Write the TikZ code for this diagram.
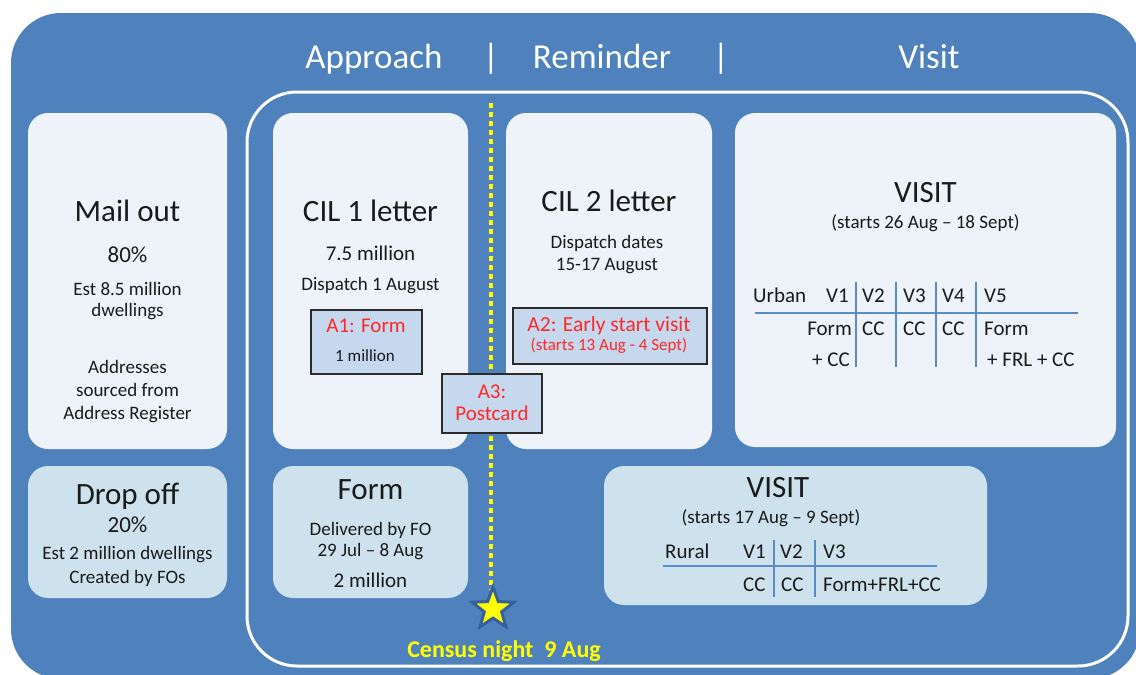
\documentclass[tikz,border=0pt]{standalone}
\usepackage{fontspec}
\setmainfont{Carlito}
\usetikzlibrary{shapes.geometric}
\definecolor{bgblue}{HTML}{4F81BD}
\definecolor{boxlight}{HTML}{EEF3FA}
\definecolor{boxblue}{HTML}{CEE2EE}
\definecolor{afill}{HTML}{C5D8EE}
\definecolor{aborder}{HTML}{2B2B2B}
\definecolor{ared}{HTML}{FF2828}
\definecolor{rulecol}{HTML}{5B8BC7}
\definecolor{starblue}{HTML}{36609A}
\definecolor{txtdark}{HTML}{1A1A1A}
\definecolor{census}{HTML}{FFFF00}
\newcommand{\fz}[1]{\fontsize{#1}{#1}\selectfont}
\begin{document}
\begin{tikzpicture}[x=1pt,y=-1pt,
  box/.style={inner sep=0pt, outer sep=0pt, anchor=north west, rounded corners=20pt},
  lightbox/.style={box, fill=boxlight},
  bluebox/.style={box, fill=boxblue},
  abox/.style={inner sep=0pt, outer sep=0pt, anchor=north west, draw=aborder, line width=1.3pt, fill=afill},
  t/.style={inner sep=0pt, anchor=base, text=txtdark},
  tw/.style={t, anchor=base west},
  te/.style={t, anchor=base east},
  hd/.style={inner sep=0pt, anchor=base, text=white, font=\fz{35}},
  redtxt/.style={inner sep=0pt, anchor=base, text=ared},
  tablerule/.style={draw=rulecol, line width=1.5pt},
  big/.style={font=\fz{31}},
  mid/.style={font=\fz{23}},
  small/.style={font=\fz{19}},
  tab/.style={font=\fz{21}},
]
\useasboundingbox (0,0) rectangle (1136,675);
% background
\node[box, fill=bgblue, rounded corners=50pt, minimum width=1129pt, minimum height=666pt] (bg) at (11,13) {};
% header
\node[hd] (happ) at (374,68) {Approach};
\node[hd] (hsep1) at (491,68) {|};
\node[hd] (hrem) at (602,68) {Reminder};
\node[hd] (hsep2) at (721,68) {|};
\node[hd] (hvis) at (929,68) {Visit};
% white frame
\node[box, draw=white, line width=3pt, rounded corners=50pt, minimum width=881pt, minimum height=574pt] (frame) at (247,92) {};
% boxes
\node[lightbox, minimum width=199pt, minimum height=336pt] (mail) at (28,113) {};
\node[bluebox, minimum width=199pt, minimum height=132pt] (drop) at (28,466) {};
\node[lightbox, minimum width=195pt, minimum height=336pt] (cil1) at (273,113) {};
\node[lightbox, minimum width=206pt, minimum height=336pt] (cil2) at (506,113) {};
\node[lightbox, minimum width=381pt, minimum height=334pt] (urban) at (735,113) {};
\node[bluebox, minimum width=195pt, minimum height=132pt] (form) at (273,466) {};
\node[bluebox, minimum width=383pt, minimum height=139pt] (rural) at (604,466) {};
% mail out texts
\node[t, big] (mt1) at (127.5,221) {Mail out};
\node[t, mid] (mt2) at (127.5,262) {80\%};
\node[t, small] (mt3) at (127.5,295) {Est 8.5 million};
\node[t, small] (mt4) at (127.5,316) {dwellings};
\node[t, small] (mt5) at (127.5,373) {Addresses};
\node[t, small] (mt6) at (127.5,396) {sourced from};
\node[t, small] (mt7) at (127.5,419) {Address Register};
% drop off texts
\node[t, big] (dt1) at (127.5,504) {Drop off};
\node[t, mid] (dt2) at (127.5,532) {20\%};
\node[t, small] (dt3) at (127.5,559) {Est 2 million dwellings};
\node[t, small] (dt4) at (127.5,583) {Created by FOs};
% CIL 1
\node[t, big] (c1t1) at (370.5,221) {CIL 1 letter};
\node[t, font=\fz{21}] (c1t2) at (370.5,260) {7.5 million};
\node[t, small] (c1t3) at (370.5,290) {Dispatch 1 August};
% CIL 2
\node[t, big] (c2t1) at (609,211) {CIL 2 letter};
\node[t, small] (c2t2) at (607,248) {Dispatch dates};
\node[t, small] (c2t3) at (607,270) {15-17 August};
% urban visit
\node[t, big] (ut1) at (925.5,202) {VISIT};
\node[t, small] (ut2) at (925.5,228) {(starts 26 Aug -- 18 Sept)};
\draw[tablerule] (755,313) coordinate (uh1) -- (1078,313) coordinate (uh2);
\foreach \x [count=\i] in {856,896,936,976}{
  \draw[tablerule] (\x,282) coordinate (uvt\i) -- (\x,367) coordinate (uvb\i);
}
\node[tw, tab] (uu) at (753,302) {Urban};
\node[tw, tab] (uv1) at (826,302) {V1};
\node[tw, tab] (uv2) at (862,302) {V2};
\node[tw, tab] (uv3) at (903,302) {V3};
\node[tw, tab] (uv4) at (942,302) {V4};
\node[tw, tab] (uv5) at (984,302) {V5};
\node[te, tab] (ur1) at (852,335) {Form};
\node[tw, tab] (ur2) at (862,335) {CC};
\node[tw, tab] (ur3) at (903,335) {CC};
\node[tw, tab] (ur4) at (942,335) {CC};
\node[tw, tab] (ur5) at (984,335) {Form};
\node[te, tab] (ur6) at (850,366) {+ CC};
\node[tw, tab] (ur7) at (987,366) {+ FRL + CC};
% form box
\node[t, big] (ft1) at (370.5,499) {Form};
\node[t, small] (ft2) at (370.5,535) {Delivered by FO};
\node[t, small] (ft3) at (370.5,556) {29 Jul -- 8 Aug};
\node[t, font=\fz{21}] (ft4) at (370.5,587) {2 million};
% rural visit
\node[t, big] (rt1) at (778,497) {VISIT};
\node[t, small] (rt2) at (771,523) {(starts 17 Aug -- 9 Sept)};
\draw[tablerule] (663,566) coordinate (rh1) -- (937,566) coordinate (rh2);
\draw[tablerule] (774,540) coordinate (rvt1) -- (774,597) coordinate (rvb1);
\draw[tablerule] (815,540) coordinate (rvt2) -- (815,597) coordinate (rvb2);
\node[tw, tab] (rr) at (665,558) {Rural};
\node[tw, tab] (rv1) at (743,558) {V1};
\node[tw, tab] (rv2) at (780,558) {V2};
\node[tw, tab] (rv3) at (823,558) {V3};
\node[tw, tab] (rc1) at (743,591) {CC};
\node[tw, tab] (rc2) at (781,591) {CC};
\node[tw, tab] (rc3) at (823,591) {Form+FRL+CC};
% census line
\coordinate (dtop) at (491,103);
\coordinate (dbot) at (491,590);
\draw[census, line width=4.5pt, dash pattern=on 4.5pt off 4.5pt] (dtop) -- (dbot);
% A boxes
\node[abox, minimum width=111pt, minimum height=64pt] (a1) at (311,310) {};
\node[redtxt, font=\fz{21}] (a1t1) at (366,332) {A1: Form};
\node[t, font=\fz{17}] (a1t2) at (365,361) {1 million};
\node[abox, minimum width=194pt, minimum height=56pt] (a2) at (513,308) {};
\node[redtxt, font=\fz{21.5}] (a2t1) at (609,331) {A2: Early start visit};
\node[redtxt, font=\fz{17}] (a2t2) at (609,350) {(starts 13 Aug - 4 Sept)};
\node[abox, minimum width=100pt, minimum height=59pt] (a3) at (442,374) {};
\node[redtxt, font=\fz{21}] (a3t1) at (492,398) {A3:};
\node[redtxt, font=\fz{21}] (a3t2) at (492,420) {Postcard};
% star
\node[star, star points=5, star point ratio=2.4, fill=census, draw=starblue, line width=3pt, minimum size=44pt, inner sep=0pt] (star) at (493,609) {};
\node[inner sep=0pt, anchor=base, text=census, font=\bfseries\fz{24}] (cn) at (504,657) {Census night~~9 Aug};
\end{tikzpicture}
\end{document}
